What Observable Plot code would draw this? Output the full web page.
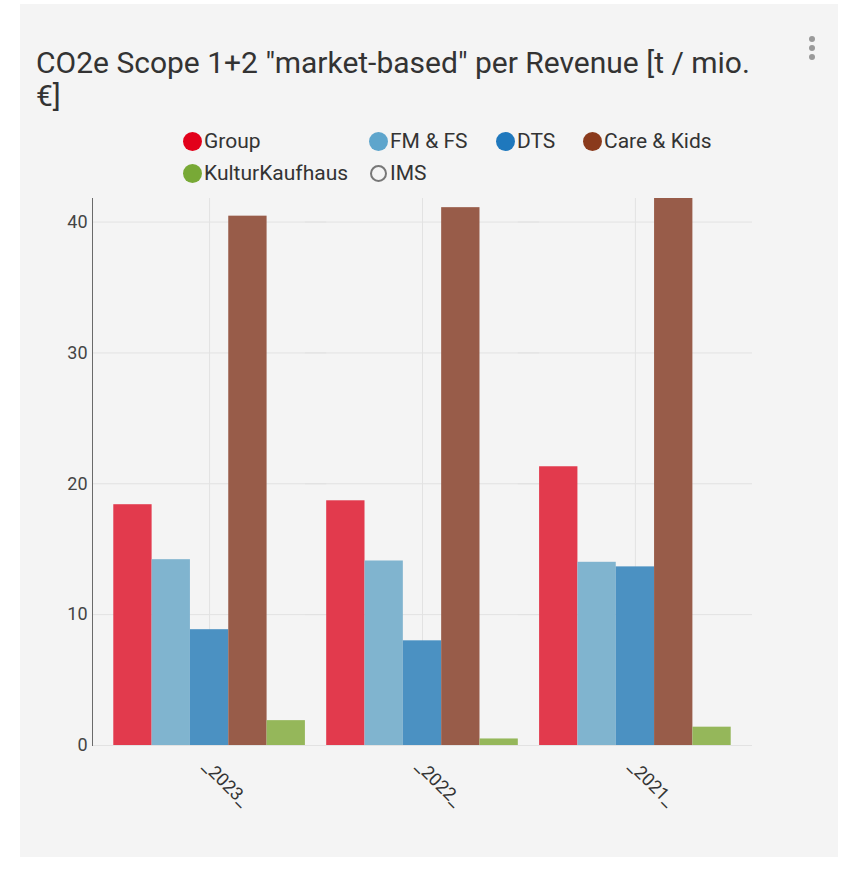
<!DOCTYPE html>
<html><head><meta charset="utf-8">
<script src="https://cdn.jsdelivr.net/npm/d3@7"></script>
<script src="https://cdn.jsdelivr.net/npm/@observablehq/plot@0.6"></script>
<style>
html,body{margin:0;padding:0;background:#fff;width:845px;height:879px;overflow:hidden;font-family:Roboto,"Noto Sans",sans-serif}
#card{position:absolute;left:20px;top:4px;width:818px;height:853px;background:#f4f4f4}
#title{position:absolute;left:36px;top:46px;font-size:30px;line-height:33px;color:#333;white-space:nowrap}
#menu{position:absolute;left:809px;top:36px}
.dot{width:6px;height:6px;border-radius:50%;background:#9a9a9a;margin-bottom:3px}
#legend{position:absolute;left:183px;top:125px;display:grid;grid-template-columns:186px 127px 87px auto}
.item{display:flex;align-items:center;font-size:21px;color:#333;height:32px;white-space:nowrap}
.sw{width:19px;height:19px;border-radius:50%;margin-right:2px;box-sizing:border-box;flex:none}
#chart{position:absolute;left:0;top:180px}
</style></head>
<body>
<div id="card"></div>
<div id="title">CO2e Scope 1+2 "market-based" per Revenue [t / mio.<br>€]</div>
<div id="menu"><div class="dot"></div><div class="dot"></div><div class="dot"></div></div>
<div id="legend"></div>
<div id="chart"></div>
<script>
const years = ["2023", "2022", "2021"];
const seriesNames = ["Group", "FM & FS", "DTS", "Care & Kids", "KulturKaufhaus", "IMS"];
const groupValues = [18.4, 18.7, 21.3];
const fmfsValues = [14.2, 14.1, 14.0];
const dtsValues = [8.85, 8.0, 13.65];
const careKidsValues = [40.45, 41.1, 41.8];
const kulturValues = [1.9, 0.5, 1.4];
const imsValues = [null, null, null];
const yTicks = [0, 10, 20, 30, 40];
const legendColors = ["#e2001a", "#5ea5cc", "#1f78bd", "#8a3a1c", "#78a936", null];
const barColors = ["#e23a4d", "#80b4cf", "#4b91c2", "#985c49", "#95b75a", "#cccccc"];

const valueLists = [groupValues, fmfsValues, dtsValues, careKidsValues, kulturValues, imsValues];
const data = [];
years.forEach((yr, i) => seriesNames.forEach((s, j) => {
  const v = valueLists[j][i];
  if (v != null) data.push({year: yr, series: s, value: v});
}));
const barSeries = seriesNames.filter((s, j) => valueLists[j].some(v => v != null));

// legend
const leg = document.getElementById("legend");
seriesNames.forEach((s, j) => {
  const it = document.createElement("div"); it.className = "item";
  const sw = document.createElement("span"); sw.className = "sw";
  if (legendColors[j]) sw.style.background = legendColors[j];
  else { sw.style.border = "2px solid #777"; sw.style.width = "17px"; sw.style.height = "17px"; sw.style.marginLeft = "1px"; sw.style.marginRight = "3px"; }
  it.appendChild(sw);
  const t = document.createElement("span"); t.textContent = s; it.appendChild(t);
  leg.appendChild(it);
});

const width = 845, height = 665, mL = 92, mR = 93, mT = 18, mB = 100;
const fxPad = 0.1;
const step = (width - mL - mR) / (years.length - fxPad + 2 * fxPad);
const outer = fxPad * step;
const gridColor = "#e2e2e2";

const chart = Plot.plot({
  width, height,
  marginLeft: mL, marginRight: mR, marginTop: mT, marginBottom: mB,
  style: {background: "transparent", fontFamily: "Roboto, sans-serif", overflow: "visible"},
  fx: {domain: years, paddingInner: fxPad, paddingOuter: fxPad, round: false, axis: null},
  x: {domain: barSeries, padding: 0, round: false, axis: null},
  y: {domain: [0, d3.max(data, d => d.value)], axis: null},
  color: {domain: seriesNames, range: barColors},
  marks: [
    Plot.ruleY(yTicks, {stroke: gridColor, strokeWidth: 1, insetLeft: -outer, insetRight: -outer}),
    Plot.gridFx({stroke: gridColor, strokeOpacity: 1}),
    Plot.barY(data, {fx: "year", x: "series", y: "value", fill: "series"}),
    Plot.axisY(yTicks, {anchor: "left", facetAnchor: "left", tickSize: 0, tickPadding: 5, dx: -outer, fontSize: 18, color: "#444", label: null}),
    Plot.frame({anchor: "left", facetAnchor: "left", dx: -outer, stroke: "#6a6a6a"}),
    Plot.axisFx({anchor: "bottom", tickSize: 0, tickRotate: 45, tickFormat: d => "_" + d + "_", label: null, fontSize: 18, color: "#333", dx: -4, dy: 6})
  ]
});
document.getElementById("chart").appendChild(chart);
</script>
</body></html>
